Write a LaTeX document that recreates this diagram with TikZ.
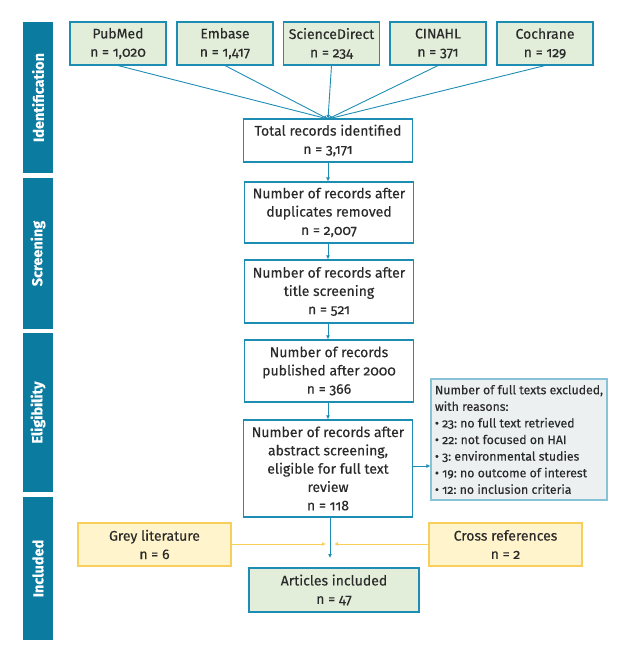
\documentclass[tikz,border=0pt]{standalone}
\usepackage{fontspec}
\setmainfont{Fira Sans}[Numbers=OldStyle, FakeBold=0.2]
\usetikzlibrary{arrows.meta}
\definecolor{sidebar}{HTML}{0B7BA0}
\definecolor{bord}{HTML}{1E8DB3}
\definecolor{greenfill}{HTML}{E2EED9}
\definecolor{yellowfill}{HTML}{FFF4CC}
\definecolor{yellowbord}{HTML}{F7CF5A}
\definecolor{greyfill}{HTML}{EDF0F0}
\definecolor{greybord}{HTML}{86C3D6}
\definecolor{txt}{HTML}{2A2A2A}
\tikzset{
  base/.style={draw=bord, line width=1.1pt, align=center, text=txt, font=\fontsize{14}{18.3}\selectfont, inner sep=2pt},
  srcbox/.style={base, fill=greenfill, minimum width=96pt, minimum height=43pt},
  flowbox/.style={base, fill=white, minimum width=169pt},
  yelbox/.style={base, draw=yellowbord, fill=yellowfill, minimum width=153pt, minimum height=43pt},
  exclbox/.style={draw=greybord, line width=1.1pt, fill=greyfill, text=txt, align=left, font=\fontsize{12.3}{16.6}\selectfont, minimum width=176pt, minimum height=121pt, inner sep=2pt},
  phase/.style={fill=sidebar, minimum width=30pt, inner sep=0pt},
  phaselabel/.style={rotate=90, text=white, font=\fontsize{14.5}{16}\selectfont\bfseries},
  conn/.style={draw=bord, line width=0.9pt, -{Latex[length=4pt,width=4pt]}},
  yconn/.style={draw=yellowbord, line width=0.9pt, -{Latex[length=4pt,width=4pt]}}
}
\begin{document}
\frenchspacing
\begin{tikzpicture}[x=1pt,y=-1pt]
\useasboundingbox (0,0) rectangle (630,652);
% sidebar
\node[phase, minimum height=151pt] (pid) at (38,97.5) {};
\node[phaselabel] (tid) at (pid) {Identification};
\node[phase, minimum height=151pt] (psc) at (38,253.5) {};
\node[phaselabel] (tsc) at (psc) {Screening};
\node[phase, minimum height=159pt] (pel) at (38,412.5) {};
\node[phaselabel] (tel) at (pel) {Eligibility};
\node[phase, minimum height=143pt] (pin) at (38,568.5) {};
\node[phaselabel] (tin) at (pin) {Included};
% sources
\node[srcbox] (pub) at (118,43.5) {PubMed\\n = 1,020};
\node[srcbox] (emb) at (225,43.5) {Embase\\n = 1,417};
\node[srcbox] (sci) at (331.5,43.5) {ScienceDirect\\n = 234};
\node[srcbox] (cin) at (438,43.5) {CINAHL\\n = 371};
\node[srcbox] (coc) at (545,43.5) {Cochrane\\n = 129};
% flow
\node[flowbox, minimum height=43pt] (tot) at (328,140.5) {Total records identified\\n = 3,171};
\node[flowbox, minimum height=61pt] (dup) at (329,212.5) {Number of records after\\duplicates removed\\n = 2,007};
\node[flowbox, minimum height=63pt] (tit) at (329,291.5) {Number of records after\\title screening\\n = 521};
\node[flowbox, minimum height=62pt] (pubd) at (329,371) {Number of records\\published after 2000\\n = 366};
\node[flowbox, minimum height=97pt] (abs) at (328,468.5) {Number of records after\\abstract screening,\\eligible for full text\\review\\n = 118};
\node[exclbox] (exc) at (519,439.5) {Number of full texts excluded,\\with reasons:\\
\textbullet\ 23: no full text retrieved\\
\textbullet\ 22: not focused on HAI\\
\textbullet\ 3: environmental studies\\
\textbullet\ 19: no outcome of interest\\
\textbullet\ 12: no inclusion criteria};
\node[yelbox] (grey) at (154.5,544.5) {Grey literature\\n = 6};
\node[yelbox] (cross) at (505.5,544.5) {Cross references\\n = 2};
\node[srcbox, minimum width=170pt, minimum height=44pt] (art) at (334,590) {Articles included\\n = 47};
% connectors
\coordinate (meet) at (328,119);
\foreach \s in {pub,emb,sci,cin,coc} \draw[conn] (\s.south) -- (meet);
\draw[conn] (tot.south -| 328,0) -- (dup.north -| 328,0);
\draw[conn] (dup.south -| 328,0) -- (tit.north -| 328,0);
\draw[conn] (tit.south -| 328,0) -- (pubd.north -| 328,0);
\draw[conn] (pubd.south -| 328,0) -- (abs.north -| 328,0);
\draw[conn] (abs.east |- 0,466) -- (exc.west |- 0,466);
\coordinate (yl) at (326,544);
\coordinate (yr) at (334,544);
\draw[yconn] (grey.east |- yl) -- (yl);
\draw[yconn] (cross.west |- yr) -- (yr);
\coordinate (down) at (330,558);
\draw[conn] (abs.south -| down) -- (down);
\end{tikzpicture}
\end{document}
